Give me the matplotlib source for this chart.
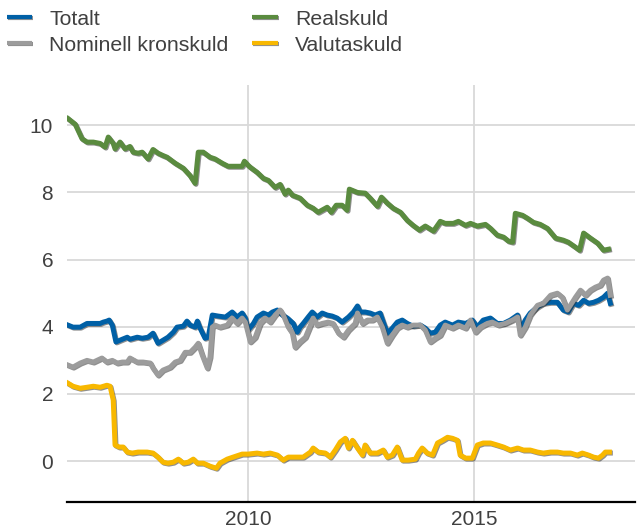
import matplotlib
matplotlib.use('Agg')
import matplotlib.pyplot as plt
import matplotlib.patheffects as pe
import numpy as np

# Values (x in decimal years, y in percent)
real_x = [2006.02, 2006.18, 2006.33, 2006.44, 2006.58, 2006.73, 2006.84, 2006.91, 2007.02, 2007.06,
          2007.17, 2007.28, 2007.39, 2007.46, 2007.57, 2007.66, 2007.79, 2007.90, 2008.01, 2008.12,
          2008.21, 2008.39, 2008.57, 2008.72, 2008.83, 2008.90, 2009.01, 2009.16, 2009.27, 2009.43,
          2009.56, 2009.76, 2009.87, 2009.92, 2010.00, 2010.05, 2010.20, 2010.34, 2010.45, 2010.60,
          2010.71, 2010.82, 2010.89, 2010.98, 2011.15, 2011.31, 2011.44, 2011.55, 2011.75, 2011.84,
          2011.95, 2012.08, 2012.19, 2012.24, 2012.42, 2012.59, 2012.70, 2012.86, 2012.95, 2013.08,
          2013.21, 2013.37, 2013.52, 2013.65, 2013.79, 2013.92, 2014.10, 2014.25, 2014.36, 2014.54,
          2014.65, 2014.81, 2014.92, 2015.07, 2015.25, 2015.36, 2015.51, 2015.65, 2015.76, 2015.85,
          2015.91, 2016.07, 2016.18, 2016.31, 2016.46, 2016.62, 2016.80, 2016.97, 2017.08, 2017.24,
          2017.33, 2017.42, 2017.57, 2017.73, 2017.86, 2017.97]
real_y = [10.2, 10.03, 9.6, 9.5, 9.5, 9.46, 9.35, 9.65, 9.46, 9.3,
          9.5, 9.3, 9.37, 9.2, 9.17, 9.2, 9.0, 9.28, 9.17, 9.1,
          9.05, 8.87, 8.72, 8.5, 8.27, 9.2, 9.2, 9.05, 9.0, 8.87,
          8.78, 8.78, 8.78, 8.93, 8.81, 8.75, 8.6, 8.42, 8.36, 8.15,
          8.24, 7.95, 8.07, 7.92, 7.83, 7.62, 7.53, 7.41, 7.56, 7.41,
          7.62, 7.62, 7.47, 8.1, 8.0, 7.98, 7.83, 7.59, 7.86, 7.68,
          7.53, 7.41, 7.17, 7.02, 6.88, 7.0, 6.85, 7.14, 7.08, 7.08,
          7.14, 7.02, 7.08, 7.0, 7.05, 6.93, 6.73, 6.67, 6.55, 6.52,
          7.38, 7.32, 7.23, 7.11, 7.05, 6.93, 6.64, 6.58, 6.52, 6.37,
          6.28, 6.79, 6.64, 6.49, 6.28, 6.31]

total_x = [2006.02, 2006.13, 2006.29, 2006.44, 2006.58, 2006.73, 2006.80, 2006.88, 2006.93, 2007.00,
           2007.08, 2007.22, 2007.33, 2007.39, 2007.55, 2007.66, 2007.79, 2007.90, 2008.01, 2008.12,
           2008.23, 2008.35, 2008.43, 2008.57, 2008.65, 2008.72, 2008.83, 2008.88, 2008.94, 2009.05,
           2009.12, 2009.21, 2009.34, 2009.50, 2009.65, 2009.76, 2009.87, 2009.94, 2010.00, 2010.12,
           2010.20, 2010.34, 2010.45, 2010.54, 2010.65, 2010.76, 2010.87, 2011.00, 2011.09, 2011.15,
           2011.22, 2011.33, 2011.42, 2011.53, 2011.64, 2011.75, 2011.86, 2011.97, 2012.08, 2012.22,
           2012.33, 2012.42, 2012.48, 2012.59, 2012.70, 2012.81, 2012.92, 2012.99, 2013.08, 2013.19,
           2013.30, 2013.41, 2013.52, 2013.65, 2013.81, 2013.92, 2014.03, 2014.14, 2014.25, 2014.36,
           2014.52, 2014.65, 2014.81, 2014.96, 2015.07, 2015.20, 2015.36, 2015.51, 2015.65, 2015.80,
           2015.96, 2016.02, 2016.13, 2016.24, 2016.40, 2016.53, 2016.69, 2016.84, 2016.97, 2017.08,
           2017.19, 2017.31, 2017.42, 2017.53, 2017.64, 2017.75, 2017.86, 2017.95, 2018.01]
total_y = [4.05, 3.99, 3.99, 4.1, 4.1, 4.1, 4.14, 4.17, 4.2, 4.05,
           3.55, 3.63, 3.69, 3.63, 3.69, 3.66, 3.69, 3.81, 3.51, 3.6,
           3.69, 3.84, 3.99, 4.02, 4.17, 4.05, 3.99, 4.17, 3.96, 3.66,
           3.69, 4.35, 4.32, 4.29, 4.44, 4.29, 4.41, 4.26, 3.9, 4.1,
           4.29, 4.41, 4.35, 4.44, 4.5, 4.35, 4.26, 4.1, 3.84, 3.99,
           4.1, 4.29, 4.44, 4.29, 4.41, 4.35, 4.32, 4.26, 4.14, 4.29,
           4.44, 4.62, 4.44, 4.44, 4.41, 4.35, 4.41, 4.14, 3.81, 3.96,
           4.14, 4.2, 4.1, 4.02, 4.05, 3.96, 3.81, 3.84, 4.05, 4.14,
           4.05, 4.14, 4.1, 4.2, 3.99, 4.2, 4.26, 4.1, 4.1, 4.2,
           4.35, 3.9, 4.2, 4.41, 4.59, 4.7, 4.73, 4.73, 4.5, 4.44,
           4.7, 4.64, 4.79, 4.7, 4.73, 4.79, 4.88, 5.0, 4.7]

nominal_x = [2006.02, 2006.13, 2006.29, 2006.44, 2006.58, 2006.77, 2006.88, 2007.00, 2007.11, 2007.22,
             2007.33, 2007.39, 2007.55, 2007.68, 2007.84, 2007.90, 2008.01, 2008.12, 2008.28, 2008.39,
             2008.50, 2008.61, 2008.72, 2008.83, 2008.90, 2008.99, 2009.10, 2009.16, 2009.21, 2009.27,
             2009.38, 2009.54, 2009.65, 2009.76, 2009.87, 2009.94, 2010.05, 2010.16, 2010.27, 2010.38,
             2010.49, 2010.60, 2010.71, 2010.78, 2010.89, 2010.98, 2011.04, 2011.15, 2011.27, 2011.38,
             2011.44, 2011.53, 2011.64, 2011.77, 2011.88, 2012.00, 2012.11, 2012.22, 2012.37, 2012.42,
             2012.53, 2012.64, 2012.75, 2012.86, 2012.97, 2013.08, 2013.19, 2013.30, 2013.41, 2013.52,
             2013.65, 2013.81, 2013.92, 2014.03, 2014.14, 2014.25, 2014.36, 2014.52, 2014.65, 2014.81,
             2014.92, 2015.03, 2015.14, 2015.29, 2015.40, 2015.54, 2015.69, 2015.85, 2015.96, 2016.02,
             2016.13, 2016.24, 2016.40, 2016.53, 2016.69, 2016.84, 2016.95, 2017.06, 2017.17, 2017.24,
             2017.35, 2017.46, 2017.57, 2017.68, 2017.79, 2017.86, 2017.95, 2018.01]
nominal_y = [2.86, 2.8, 2.92, 3.0, 2.95, 3.07, 2.95, 3.0, 2.92, 2.95,
             2.95, 3.07, 2.95, 2.95, 2.92, 2.77, 2.56, 2.71, 2.8, 2.95,
             3.0, 3.24, 3.24, 3.39, 3.51, 3.15, 2.77, 3.1, 3.99, 4.05,
             3.99, 4.05, 4.26, 4.1, 4.26, 4.14, 3.55, 3.69, 4.1, 4.26,
             4.14, 4.35, 4.5, 4.35, 3.99, 3.81, 3.39, 3.55, 3.69, 4.05,
             4.26, 4.05, 4.1, 4.14, 4.1, 3.81, 3.69, 3.9, 4.1, 4.41,
             4.1, 4.2, 4.2, 4.29, 3.99, 3.51, 3.75, 3.96, 4.05, 3.99,
             4.05, 4.05, 3.9, 3.55, 3.66, 3.75, 4.05, 3.96, 4.05, 3.96,
             4.2, 3.84, 3.99, 4.1, 4.14, 4.05, 4.1, 4.2, 4.29, 3.75,
             3.99, 4.35, 4.64, 4.7, 4.94, 5.0, 4.88, 4.5, 4.73, 4.88,
             5.09, 4.94, 5.09, 5.18, 5.24, 5.39, 5.45, 4.94]

foreign_x = [2006.02, 2006.13, 2006.29, 2006.44, 2006.58, 2006.73, 2006.88, 2006.95, 2007.02, 2007.06,
             2007.15, 2007.24, 2007.33, 2007.44, 2007.57, 2007.77, 2007.90, 2008.01, 2008.12, 2008.23,
             2008.35, 2008.46, 2008.57, 2008.68, 2008.79, 2008.88, 2009.01, 2009.16, 2009.30, 2009.38,
             2009.54, 2009.67, 2009.87, 2010.00, 2010.20, 2010.34, 2010.49, 2010.65, 2010.78, 2010.89,
             2011.09, 2011.22, 2011.38, 2011.44, 2011.55, 2011.71, 2011.82, 2011.93, 2012.04, 2012.15,
             2012.22, 2012.31, 2012.42, 2012.53, 2012.59, 2012.70, 2012.86, 2012.99, 2013.08, 2013.19,
             2013.30, 2013.41, 2013.54, 2013.70, 2013.77, 2013.85, 2013.96, 2014.08, 2014.19, 2014.30,
             2014.41, 2014.52, 2014.63, 2014.69, 2014.81, 2014.96, 2015.07, 2015.20, 2015.36, 2015.51,
             2015.65, 2015.80, 2015.96, 2016.09, 2016.24, 2016.40, 2016.53, 2016.69, 2016.84, 2016.97,
             2017.13, 2017.28, 2017.39, 2017.53, 2017.64, 2017.75, 2017.84, 2017.90, 2017.99]
foreign_y = [2.32, 2.23, 2.17, 2.2, 2.23, 2.2, 2.26, 2.23, 1.82, 0.48,
             0.42, 0.42, 0.27, 0.24, 0.27, 0.27, 0.24, 0.12, -0.03, -0.06,
             -0.03, 0.06, -0.06, -0.03, 0.06, -0.06, -0.06, -0.15, -0.21, -0.06,
             0.06, 0.12, 0.21, 0.21, 0.24, 0.21, 0.24, 0.18, 0.03, 0.12,
             0.12, 0.12, 0.27, 0.39, 0.27, 0.24, 0.12, 0.33, 0.57, 0.68,
             0.39, 0.62, 0.39, 0.18, 0.48, 0.24, 0.24, 0.33, 0.12, 0.18,
             0.42, 0.03, 0.03, 0.06, 0.24, 0.39, 0.24, 0.18, 0.54, 0.62,
             0.71, 0.68, 0.62, 0.18, 0.09, 0.09, 0.48, 0.54, 0.54, 0.48,
             0.42, 0.33, 0.39, 0.33, 0.33, 0.27, 0.24, 0.27, 0.27, 0.24,
             0.24, 0.18, 0.24, 0.18, 0.12, 0.09, 0.18, 0.27, 0.27]

labels = ['Totalt', 'Nominell kronskuld', 'Realskuld', 'Valutaskuld']
colors = ['#0060a6', '#9c9c9c', '#5a8b3f', '#f8b800']
y_ticks = [0, 2, 4, 6, 8, 10]
x_ticks = [2010, 2015]

plt.rcParams['font.family'] = ['Liberation Sans', 'DejaVu Sans']
text_color = '#404040'

fig = plt.figure(figsize=(6.39, 5.28), dpi=100)
ax = fig.add_axes([0.105, 0.049, 0.889, 0.79])

shadow = [pe.SimpleLineShadow(offset=(0.7, -0.7), shadow_color='#333333', alpha=0.55),
          pe.Normal()]

series = [(total_x, total_y), (nominal_x, nominal_y), (real_x, real_y), (foreign_x, foreign_y)]
handles = []
for (xs, ys), lab, col in zip(series, labels, colors):
    line, = ax.plot(xs, ys, color=col, linewidth=3.6, label=lab,
                    solid_joinstyle='round', path_effects=shadow)
    handles.append(line)

ax.set_xlim(2006.0, 2018.56)
ax.set_ylim(-1.22, 11.2)
ax.set_yticks(y_ticks)
ax.set_xticks(x_ticks)
ax.tick_params(axis='both', length=0, labelsize=15, colors=text_color, pad=6)
ax.tick_params(axis='y', pad=10)

ax.grid(True, color='#d9d9d9', linewidth=1.3)
ax.set_axisbelow(True)
for side in ['top', 'right', 'left']:
    ax.spines[side].set_visible(False)
ax.spines['bottom'].set_color('black')
ax.spines['bottom'].set_linewidth(1.6)

leg = fig.legend(handles=handles, loc='upper left', bbox_to_anchor=(-0.013, 1.01), ncol=2,
                 frameon=False, fontsize=15.3, handlelength=1.2, handletextpad=0.82,
                 columnspacing=1.1, labelspacing=0.33, borderaxespad=0.3)
for t in leg.get_texts():
    t.set_color(text_color)
for h in leg.legend_handles:
    h.set_linewidth(3.0)
    h.set_solid_capstyle('butt')

fig.savefig('out.png', dpi=100)
